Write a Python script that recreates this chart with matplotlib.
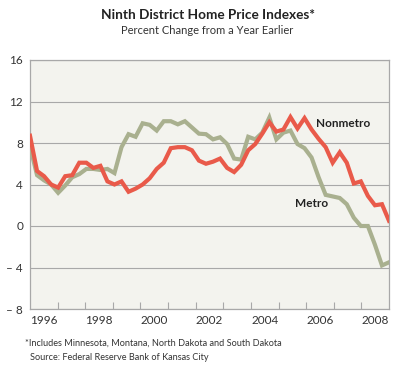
import numpy as np
import matplotlib
matplotlib.use("Agg")
import matplotlib.pyplot as plt

# quarterly, year over year % change
nonmetro = [8.7, 5.3, 4.8, 4.0, 3.7, 4.8, 4.9, 6.1, 6.1, 5.6, 5.8, 4.3, 4.0,
            4.3, 3.3, 3.6, 4.0, 4.6, 5.5, 6.1, 7.5, 7.6, 7.6, 7.3, 6.3, 6.0,
            6.2, 6.5, 5.6, 5.2, 5.9, 7.3, 7.9, 8.9, 10.0, 9.1, 9.3, 10.5, 9.4,
            10.4, 9.3, 8.4, 7.6, 6.1, 7.1, 6.1, 4.1, 4.3, 2.9, 2.0, 2.1, 0.5]
metro = [7.7, 4.9, 4.4, 4.0, 3.2, 3.9, 4.7, 5.0, 5.5, 5.5, 5.4, 5.5, 5.1,
         7.6, 8.85, 8.6, 9.9, 9.75, 9.2, 10.1, 10.1, 9.8, 10.1, 9.5, 8.9, 8.85,
         8.35, 8.55, 7.9, 6.5, 6.4, 8.6, 8.35, 9.0, 10.45, 8.35, 9.0, 9.2, 7.9,
         7.5, 6.6, 4.7, 3.0, 2.85, 2.7, 2.1, 0.8, 0.0, 0.0, -1.8, -3.8, -3.5]
years = list(range(1996, 2009))
year_labels = ["1996", "", "1998", "", "2000", "", "2002", "", "2004", "",
               "2006", "", "2008"]
yticks = [-8, -4, 0, 4, 8, 12, 16]

plt.rcParams['font.family'] = ['Lato', 'DejaVu Sans']

red = "#e95a4a"
green = "#a9b08f"
grey = "#a8a8a8"

fig = plt.figure(figsize=(4.15, 3.73), dpi=100)
ax = fig.add_axes([30/415, 1 - 309/373, 359/415, 249/373])
ax.set_facecolor("#f3f3ee")

n = len(nonmetro)
x = np.arange(n)
ax.plot(x, metro, color=green, lw=3.0, solid_joinstyle="miter", zorder=3)
ax.plot(x, nonmetro, color=red, lw=3.0, solid_joinstyle="miter", zorder=4)

ax.set_xlim(0, n - 1)
ax.set_ylim(-8, 16)

# year scale mapped onto the quarter index
per_year = (n - 1) / len(years)
ax.set_xticks([(i + 0.5) * per_year for i in range(len(years))])
ax.set_xticklabels(year_labels)
ax.set_xticks([i * per_year for i in range(1, len(years))], minor=True)
ax.tick_params(axis="x", which="major", length=0, pad=4, labelsize=8.5,
               colors="#333333")
ax.tick_params(axis="x", which="minor", length=5, direction="in",
               color=grey, width=0.8)

ax.set_yticks(yticks)
ax.set_yticklabels([f"\u2013 {abs(v)}" if v < 0 else str(v) for v in yticks])
ax.tick_params(axis="y", length=0, pad=5, labelsize=8.5, colors="#333333")
ax.yaxis.grid(True, color=grey, lw=0.8)
ax.set_axisbelow(True)
for s in ax.spines.values():
    s.set_color(grey)
    s.set_linewidth(0.9)

ax.text(44.5, 9.9, "Nonmetro", fontsize=8.5, fontweight="bold",
        color="#222222", ha="center", va="center")
ax.text(40, 2.2, "Metro", fontsize=8.5, fontweight="bold",
        color="#222222", ha="center", va="center")

fig.text(0.5, 1 - 15/373, "Ninth District Home Price Indexes*", ha="center",
         va="center", fontsize=9.8, fontweight="bold", color="#222222")
fig.text(0.5, 1 - 30/373, "Percent Change from a Year Earlier", ha="center",
         va="center", fontsize=8.0, color="#333333")

fig.text(25/415, 1 - 343/373,
         "*Includes Minnesota, Montana, North Dakota and South Dakota",
         ha="left", va="center", fontsize=6.6, color="#333333")
fig.text(30/415, 1 - 357/373, "Source: Federal Reserve Bank of Kansas City",
         ha="left", va="center", fontsize=6.6, color="#333333")

fig.savefig("out.png", dpi=100, facecolor="white")
